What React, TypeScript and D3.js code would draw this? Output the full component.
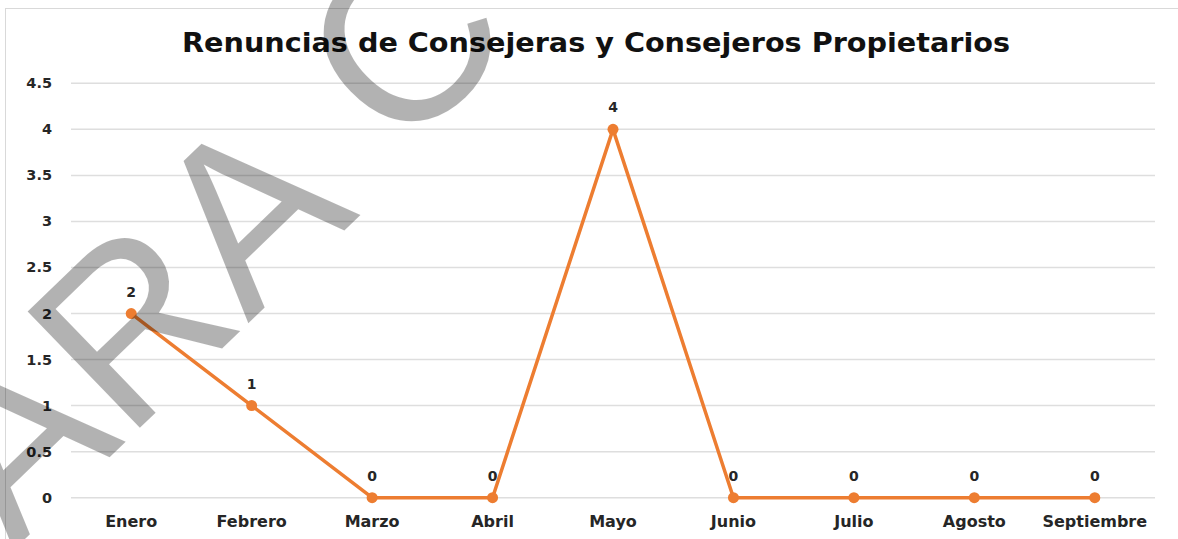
import { useMemo } from "react";
import * as d3 from "d3";

// ── Data ──────────────────────────────────────────────────────────────────────
const months = [
  "Enero", "Febrero", "Marzo", "Abril", "Mayo",
  "Junio", "Julio", "Agosto", "Septiembre",
];
const renuncias = [2, 1, 0, 0, 4, 0, 0, 0, 0];
const yTicks = [0, 0.5, 1, 1.5, 2, 2.5, 3, 3.5, 4, 4.5];
const title = "Renuncias de Consejeras y Consejeros Propietarios";

// ── Layout ────────────────────────────────────────────────────────────────────
const W = 1178;
const H = 539;
const PLOT = { left: 71, right: 1155, top: 83.3, bottom: 497.7 };
const ORANGE = "#ED7D31";
const FONT = "'DejaVu Sans', sans-serif";

export default function App() {
  const x = useMemo(
    () => d3.scaleBand<string>().domain(months).range([PLOT.left, PLOT.right]),
    []
  );
  const y = useMemo(
    () => d3.scaleLinear().domain([0, 4.5]).range([PLOT.bottom, PLOT.top]),
    []
  );
  const cx = (m: string) => (x(m) ?? 0) + x.bandwidth() / 2;

  const pts = months.map((m, i) => ({ m, v: renuncias[i] }));
  const line = d3
    .line<{ m: string; v: number }>()
    .x((d) => cx(d.m))
    .y((d) => y(d.v));

  return (
    <svg
      width={W}
      height={H}
      style={{ position: "absolute", left: 0, top: 0, background: "#fff" }}
    >
      {/* chart frame */}
      <rect x={5.5} y={8.5} width={W + 10} height={H + 10} fill="#fff" stroke="#d9d9d9" />

      {/* title */}
      <text
        x={182}
        y={52}
        textLength={828}
        lengthAdjust="spacingAndGlyphs"
        fontFamily={FONT}
        fontWeight="bold"
        fontSize={26}
        fill="#111"
      >
        {title}
      </text>

      {/* gridlines + y labels */}
      {yTicks.map((t) => (
        <g key={t}>
          <line
            x1={PLOT.left}
            x2={PLOT.right}
            y1={y(t)}
            y2={y(t)}
            stroke="#dedede"
            strokeWidth={1.5}
          />
          <text
            x={52}
            y={y(t)}
            textAnchor="end"
            dominantBaseline="central"
            fontFamily={FONT}
            fontWeight="bold"
            fontSize={14.5}
            fill="#262626"
          >
            {t}
          </text>
        </g>
      ))}

      {/* x labels */}
      {months.map((m) => (
        <text
          key={m}
          x={cx(m)}
          y={521}
          textAnchor="middle"
          dominantBaseline="central"
          fontFamily={FONT}
          fontWeight="bold"
          fontSize={16}
          fill="#262626"
        >
          {m}
        </text>
      ))}

      {/* series */}
      <path d={line(pts) ?? ""} fill="none" stroke={ORANGE} strokeWidth={3.5} strokeLinejoin="round" />
      {pts.map((d) => (
        <circle key={d.m} cx={cx(d.m)} cy={y(d.v)} r={5.5} fill={ORANGE} />
      ))}
      {pts.map((d) => (
        <text
          key={d.m + "-lbl"}
          x={cx(d.m)}
          y={y(d.v) - 22}
          textAnchor="middle"
          dominantBaseline="central"
          fontFamily={FONT}
          fontWeight="bold"
          fontSize={14}
          fill="#262626"
        >
          {d.v}
        </text>
      ))}

      {/* watermark overlay */}
      <text
        transform="translate(-87,647) rotate(-44)"
        fontFamily="'Liberation Sans', Arial, sans-serif"
        fontSize={235}
        fill="#000"
        fillOpacity={0.3}
      >
        <tspan>PARA </tspan>
        <tspan dx={14} dy={-14}>C</tspan>
        <tspan dx={40}>ONSULTA</tspan>
      </text>
    </svg>
  );
}
